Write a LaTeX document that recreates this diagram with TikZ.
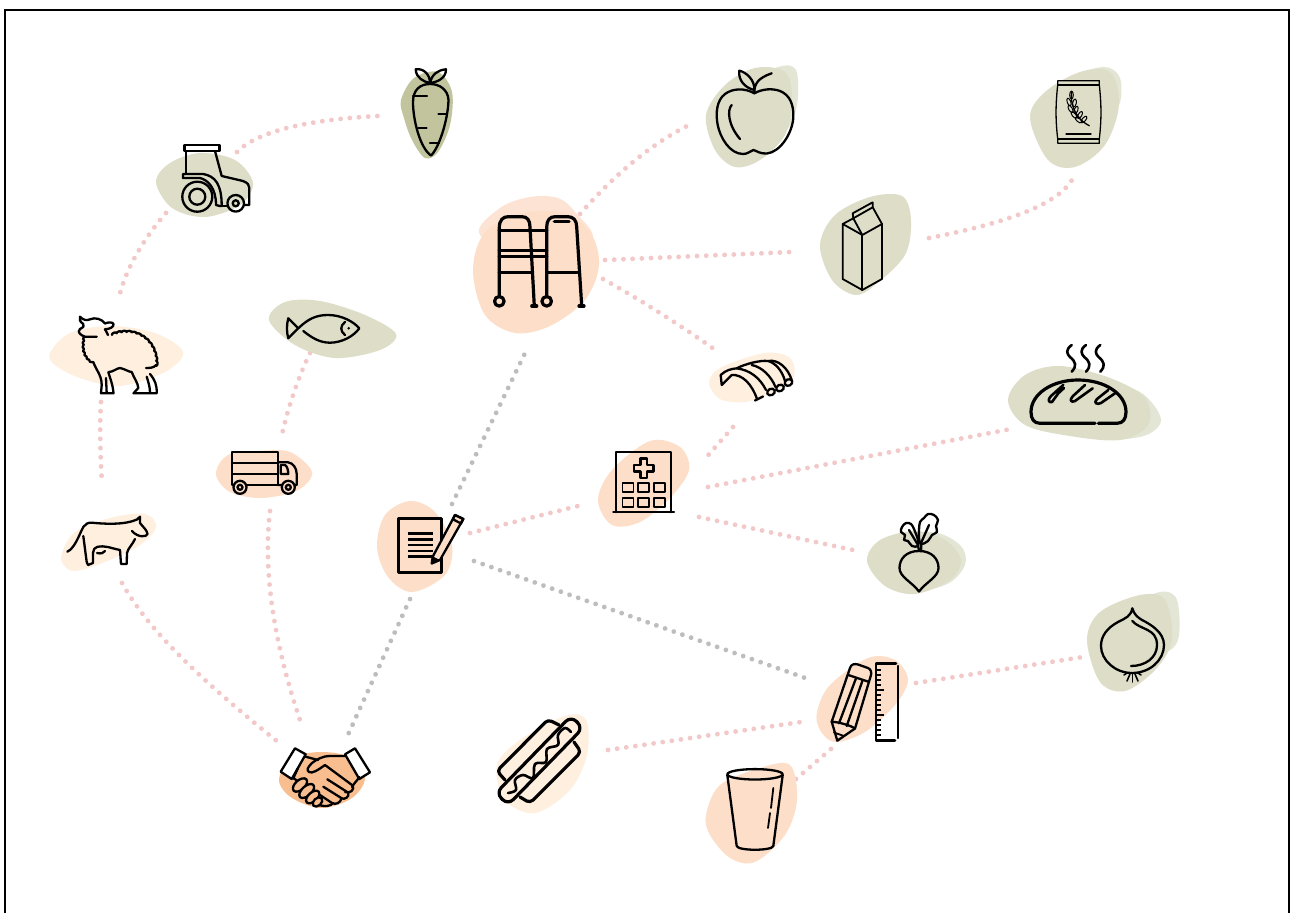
\documentclass[tikz,border=0pt]{standalone}
\usetikzlibrary{decorations.pathmorphing}
\definecolor{olive}{HTML}{DDDDC8}
\definecolor{olivelt}{HTML}{E3E6D5}
\definecolor{carrotc}{HTML}{C1C49C}
\definecolor{peach}{HTML}{FDDFC9}
\definecolor{peachlt}{HTML}{FDE3D3}
\definecolor{cream}{HTML}{FEEFDF}
\definecolor{deep}{HTML}{F9BE8F}
\definecolor{pinkdot}{HTML}{F2C8C8}
\definecolor{graydot}{HTML}{BDBDBD}
\tikzset{
 ic/.style={draw=black,line width=2.3pt,line cap=round,line join=round},
 icthin/.style={draw=black,line width=1.3pt,line cap=round,line join=round},
 icthick/.style={draw=black,line width=3.2pt,line cap=round,line join=round},
 pinkline/.style={draw=pinkdot,line width=4.8pt,line cap=round,dash pattern=on 0.01pt off 9.2pt},
 grayline/.style={draw=graydot,line width=4.8pt,line cap=round,dash pattern=on 0.01pt off 9.2pt},
 blob/.style={smooth cycle,tension=.56},
 curve/.style={smooth,tension=.6},
}
\begin{document}
\begin{tikzpicture}[x=1pt,y=-1pt]
\useasboundingbox (0,0) rectangle (1291,913);
\fill[white] (0,0) rectangle (1291,913);
\draw[black,line width=2pt] (5,913) -- (5,10) -- (1289,10) -- (1289,913);

% ---- connector ends
\coordinate (tractorNE) at (237,152);
\coordinate (carrotW) at (378,116);
\coordinate (tractorSW) at (166,213);
\coordinate (sheepN) at (118,301);
\coordinate (sheepS) at (101,402);
\coordinate (cowN) at (102,484);
\coordinate (fishS) at (310,353);
\coordinate (truckN) at (281,439);
\coordinate (truckS) at (270,511);
\coordinate (shakeNb) at (302,726);
\coordinate (cowS) at (122,583);
\coordinate (shakeNa) at (278,742);
\coordinate (docS) at (410,599);
\coordinate (shakeNc) at (346,739);
\coordinate (docN) at (452,504);
\coordinate (walkerS) at (528,347);
\coordinate (docSE) at (474,561);
\coordinate (rulerW) at (811,680);
\coordinate (docE) at (470,533);
\coordinate (hospW) at (586,504);
\coordinate (walkerNE) at (580,214);
\coordinate (appleW) at (687,126);
\coordinate (walkerE) at (605,260);
\coordinate (milkW) at (792,252);
\coordinate (walkerSE) at (603,279);
\coordinate (ribsN) at (714,349);
\coordinate (ribsS) at (733,427);
\coordinate (hospNE) at (703,461);
\coordinate (hospE) at (708,487);
\coordinate (breadW) at (1011,429);
\coordinate (hospSE) at (699,517);
\coordinate (beetW) at (853,550);
\coordinate (milkE) at (929,238);
\coordinate (flourS) at (1075,173);
\coordinate (rulerE) at (916,683);
\coordinate (onionW) at (1083,657);
\coordinate (dogE) at (608,750);
\coordinate (pencilW) at (801,722);
\coordinate (cupE) at (796,779);
\coordinate (pencilS) at (831,749);

% ---- connectors
\draw[pinkline] (tractorNE) .. controls (256.7,132) and (303.7,120) .. (carrotW);
\draw[pinkline] (tractorSW) .. controls (140.7,242.3) and (124.7,271.7) .. (sheepN);
\draw[pinkline] (sheepS) .. controls (99.7,423) and (100,450) .. (cowN);
\draw[pinkline] (fishS) .. controls (297,380.3) and (287.5,409) .. (truckN);
\draw[pinkline] (truckS) .. controls (263.3,567.3) and (272,639) .. (shakeNb);
\draw[pinkline] (cowS) .. controls (147.3,628.7) and (198.7,678.3) .. (shakeNa);
\draw[grayline] (docS) -- (shakeNc);
\draw[grayline] (docN) -- (walkerS);
\draw[grayline] (docSE) -- (rulerW);
\draw[pinkline] (docE) -- (hospW);
\draw[pinkline] (walkerNE) .. controls (615.3,173.7) and (650.7,144.7) .. (appleW);
\draw[pinkline] (walkerE) -- (milkW);
\draw[pinkline] (walkerSE) .. controls (641,300.3) and (678,323.7) .. (ribsN);
\draw[pinkline] (ribsS) -- (hospNE);
\draw[pinkline] (hospE) -- (breadW);
\draw[pinkline] (hospSE) -- (beetW);
\draw[pinkline] (milkE) .. controls (1019.3,220.7) and (1067,199.3) .. (flourS);
\draw[pinkline] (rulerE) -- (onionW);
\draw[pinkline] (dogE) -- (pencilW);
\draw[pinkline] (cupE) -- (pencilS);

% ---- blobs
\fill[olive] plot[blob] coordinates {(156,182) (170,163) (200,153) (235,160) (253,183) (240,205) (205,217) (172,208)};
\fill[carrotc] plot[blob] coordinates {(401,100) (414,78) (438,72) (452,92) (450,125) (438,152) (425,158) (412,140) (404,118)};
\fill[cream] plot[blob] coordinates {(50,353) (70,333) (110,326) (155,333) (183,352) (165,372) (120,386) (80,378) (55,365)};
\fill[olive] plot[blob] coordinates {(269,320) (285,302) (320,301) (365,315) (396,334) (380,350) (335,358) (295,345)};
\fill[cream] plot[blob] coordinates {(62,553) (75,532) (110,518) (145,514) (156,527) (140,545) (105,562) (75,571) (63,564)};
\fill[peach] plot[blob] coordinates {(216,474) (228,455) (260,451) (290,452) (312,472) (298,490) (262,498) (230,492)};
\fill[peach] plot[blob] coordinates {(377,547) (385,515) (410,501) (435,512) (452,545) (445,575) (412,592) (388,577)};
\fill[deep] plot[blob] coordinates {(279,780) (292,758) (322,752) (352,758) (365,778) (352,798) (322,808) (292,798)};
\fill[peachlt] plot[blob] coordinates {(480,235) (500,208) (530,197) (558,198) (575,212) (592,240) (540,260)};
\fill[peach] plot[blob] coordinates {(473,272) (483,235) (515,215) (560,212) (590,232) (599,265) (585,300) (550,326) (515,333) (485,315)};
\fill[olivelt] plot[blob] coordinates {(750,85) (778,67) (796,70) (797,105) (785,130) (760,110)};
\fill[olive] plot[blob] coordinates {(706,115) (725,85) (755,68) (785,72) (792,100) (785,135) (760,160) (735,167) (715,150)};
\fill[cream] plot[blob] coordinates {(709,382) (722,367) (765,353) (790,358) (793,378) (770,394) (745,402) (720,399)};
\fill[olivelt] plot[blob] coordinates {(1080,78) (1105,67) (1120,78) (1119,105) (1100,120)};
\fill[olive] plot[blob] coordinates {(1030,118) (1045,92) (1080,72) (1110,72) (1119,105) (1105,145) (1075,167) (1048,160)};
\fill[olive] plot[blob] coordinates {(820,245) (835,215) (870,197) (902,196) (911,220) (905,255) (875,285) (855,295) (832,280)};
\fill[olivelt] plot[blob] coordinates {(1100,385) (1140,392) (1161,420) (1140,437) (1090,435)};
\fill[olive] plot[blob] coordinates {(1008,400) (1025,375) (1060,366) (1110,378) (1145,398) (1148,425) (1120,440) (1070,436) (1025,425)};
\fill[peach] plot[blob] coordinates {(598,500) (612,470) (650,441) (680,447) (689,470) (670,498) (640,522) (612,525)};
\fill[cream] plot[blob] coordinates {(497,765) (520,740) (565,716) (586,720) (587,755) (570,790) (535,813) (505,800)};
\fill[peach] plot[blob] coordinates {(706,815) (720,785) (760,768) (790,765) (797,800) (785,835) (755,862) (730,858) (710,835)};
\fill[olivelt] plot[blob] coordinates {(880,545) (930,532) (960,545) (965,565) (945,585) (900,590)};
\fill[olive] plot[blob] coordinates {(867,561) (880,540) (915,531) (945,540) (961,560) (950,580) (915,594) (885,586)};
\fill[olivelt] plot[blob] coordinates {(1130,610) (1160,592) (1177,600) (1178,640) (1160,650)};
\fill[olive] plot[blob] coordinates {(1087,640) (1100,612) (1140,595) (1165,600) (1172,640) (1155,670) (1125,691) (1100,682)};
\fill[peach] plot[blob] coordinates {(817,712) (830,685) (868,658) (895,660) (908,680) (895,705) (865,732) (835,742) (820,730)};

% ---- tractor
\draw[ic] (184.5,145) rectangle (219.5,151);
\draw[ic] (185.7,151) -- (185.7,174);
\draw[ic] (215,151) -- (221.7,176) -- (243,181) .. controls (248,183) and (249.3,185) .. (249.3,188) -- (249.3,205) -- (244.5,205);
\draw[ic] (222,206) -- (227,206);
\draw[ic] (183,178) -- (183,174) -- (203,174) .. controls (215,176) and (221.7,184) .. (221.7,206) -- (220,206);
\draw[ic] (183,178) -- (200,178) .. controls (208,180) and (216,188) .. (216,205) -- (220,206);
\draw[ic] (197.3,196.7) circle (15);
\draw[ic] (197.3,196.7) circle (8);
\draw[ic] (235.7,203.3) circle (8.3);
\draw[ic] (235.7,203.3) circle (3);

% ---- carrot
\draw[ic] (430,84) .. controls (420,84) and (413,90) .. (413,102) .. controls (413,120) and (420,148) .. (431,155.5) .. controls (439,148) and (448,120) .. (448.5,100) .. controls (448,90) and (440,84) .. (430,84);
\draw[ic] (413,96) -- (427,96);
\draw[ic] (438.5,114) -- (446.5,114);
\draw[ic] (418.5,128.3) -- (426.5,128.3);
\draw[ic] (430,142.7) -- (439,142.7);
\draw[ic] (430,83) .. controls (424,82) and (416,78) .. (415.7,69.3) .. controls (423,68) and (430,74) .. (430,83) .. controls (432,74) and (438,70) .. (446,69.3) .. controls (446,78) and (438,82) .. (430,83);

% ---- sheep
\draw[ic] (96.7,336.7) -- (85,336.7) .. controls (80,335) and (77,332) .. (80,329) .. controls (84,327) and (84,326) .. (83.3,324) .. controls (80,322) and (79,319) .. (80,316.7) .. controls (83,320) and (87,321) .. (90,319.3) .. controls (95,317) and (102,319) .. (105,323.5) .. controls (108,322) and (113,322) .. (113.5,324) .. controls (114,327) and (110,329) .. (105,329.3) .. controls (106,331) and (107,333) .. (108,335);
\draw[ic,decorate,decoration={bumps,segment length=10pt,amplitude=1.5pt}] (112,335) .. controls (135,326) and (157,340) .. (156,366);
\draw[ic,decorate,decoration={bumps,segment length=8pt,amplitude=1.5pt,mirror}] (85,337) .. controls (82,350) and (86,358) .. (93,362);
\draw[ic] (93.3,362) .. controls (96,370) and (101.7,375) .. (101.7,385) -- (101,393.3) -- (113.5,393.3) .. controls (113,385) and (110,378) .. (108.3,372);
\draw[ic] (106.7,393) -- (106,378);
\draw[ic] (109,372) .. controls (113,372) and (117,368) .. (120,368) .. controls (125,369) and (129,372) .. (131.7,372) .. controls (134,378) and (138,383) .. (138.3,388) -- (133.5,393.3) -- (156.7,393.3) .. controls (157,385) and (155,380) .. (150,374);
\draw[ic] (146.7,376.7) .. controls (149,384) and (150,388) .. (150,393);
\draw[ic] (146,368) .. controls (149,368) and (154,368) .. (156,365);

% ---- fish
\draw[ic] (298.3,328.3) -- (288.3,318.3) .. controls (286.5,325) and (286.5,332) .. (288.3,338.3) -- (298.3,328.3) .. controls (308,319) and (316,315) .. (328,315) .. controls (342,315) and (354,322) .. (359.3,328.3) .. controls (354,336) and (342,342.7) .. (330,342.7) .. controls (320,342.7) and (312,338) .. (303.3,331);
\draw[ic] (345,322) .. controls (340,326) and (340,331) .. (345,335);
\fill[black] (348.7,328.3) circle (1.4);

% ---- cow
\draw[ic] (67.3,551.7) .. controls (75,548) and (79,535) .. (83.3,527) .. controls (85,524) and (88,522.5) .. (92,522.7) .. controls (105,524) and (125,525) .. (137,519.5) -- (140,516.7) -- (140,523) .. controls (143,527) and (147,530) .. (147.5,534) .. controls (147,537) and (138,538) .. (132,531);
\draw[ic] (135,539) .. controls (133,544) and (128,548) .. (127,553) -- (126.7,564) -- (121,564) -- (120,550) .. controls (110,548) and (105,545) .. (97,547) .. controls (92,548) and (93,555) .. (93,563) -- (88,565) -- (86.7,562) -- (83.3,536);
\draw[ic] (97,553) .. controls (101,554) and (104,553) .. (105,551);

% ---- truck
\draw[ic] (232,451.7) rectangle (278,485);
\draw[ic] (232,463.3) -- (278,463.3);
\draw[ic] (232,474) -- (278,474);
\draw[ic] (278,462.3) -- (288,462.3) .. controls (293,463) and (296.7,468) .. (296.7,474) -- (296.7,485) -- (278,485);
\draw[ic] (280.7,465) -- (285,465) .. controls (287,466) and (288.3,470) .. (288.3,474) -- (280.7,474) -- cycle;
\filldraw[ic,fill=peach] (240,487.3) circle (6.5);
\draw[ic] (240,487.3) circle (2.5);
\filldraw[ic,fill=peach] (288.3,487.3) circle (6.5);
\draw[ic] (288.3,487.3) circle (2.5);

% ---- document
\draw[icthick] (398.3,518.3) rectangle (441.7,572.7);
\foreach \yy in {533.3,539.3,545,551,556.7} \draw[line width=2.6pt,black] (407.7,\yy) -- (432.7,\yy);
\filldraw[ic,fill=peach] (432.7,556.7) -- (455,515) -- (463.3,519) -- (440,560) -- (431.7,563.5) -- cycle;
\draw[ic] (455,515) -- (463.3,519) -- (461,523.5) -- (452.8,519.2) -- cycle;
\fill[black] (431.7,563.5) -- (433,556.5) -- (440,560) -- cycle;

% ---- handshake
\filldraw[ic,fill=white] (295,748.3) -- (305.7,754.3) -- (291.7,779) -- (280.7,771.7) -- cycle;
\filldraw[ic,fill=white] (355,748.3) -- (345,754.3) -- (359.3,779) -- (370,772.3) -- cycle;
\draw[ic] (305.7,756.7) -- (318,760);
\draw[ic] (298,768) -- (293.3,778.3) -- (298,781);
\draw[ic] (345,756) -- (330,756) .. controls (322,756) and (316,760) .. (312,763) .. controls (308,767) and (306,770) .. (309,772) .. controls (312,774) and (318,770) .. (325,765) -- (352,785) .. controls (356,790) and (349,794) .. (345,792);
\draw[ic] (352,787) .. controls (354,783) and (357,781) .. (359.3,777);
\draw[ic] (327.3,779.3) -- (348.3,792.7) .. controls (350,797) and (344,800) .. (341.7,798.3) -- (323.3,786.7);
\draw[ic] (341.7,798.3) .. controls (340,803) and (336,805) .. (332,803) -- (320,795);
\draw[ic] (333,803) .. controls (331,806) and (326,807) .. (319,805);
\filldraw[ic,fill=deep,rotate around={42:(300,785)}] (300,785) ellipse [x radius=8.5pt,y radius=4.8pt];
\filldraw[ic,fill=deep,rotate around={42:(306.7,791)}] (306.7,791) ellipse [x radius=9pt,y radius=4.8pt];
\filldraw[ic,fill=deep,rotate around={42:(312.7,797)}] (312.7,797) ellipse [x radius=8pt,y radius=4.5pt];
\filldraw[ic,fill=deep,rotate around={42:(317.5,802)}] (317.5,802) ellipse [x radius=5.5pt,y radius=3.8pt];

% ---- walker
\draw[icthick] (499.3,296.7) -- (499.3,228) .. controls (499.3,220) and (503,216.7) .. (508,216.7) -- (522,216.7) .. controls (527,216.7) and (530,220) .. (530,227) -- (534.3,306);
\draw[icthick] (546.7,296.7) -- (546.7,227) .. controls (546.7,220) and (550,216.7) .. (555,216.7) -- (568,216.7) .. controls (573,216.7) and (576.7,220) .. (576.7,227) -- (581.7,306);
\draw[icthick] (554.3,221.3) -- (569,221.3);
\draw[icthick] (499.3,230.7) -- (546.7,230.7);
\draw[icthick] (499.3,250.7) -- (546.7,250.7);
\draw[icthick] (499.3,256.7) -- (546.7,256.7);
\draw[icthick] (499.3,272.7) -- (532.5,272.7);
\draw[icthick] (546.7,272.7) -- (579,272.7);
\draw[icthick] (499.3,301.3) circle (4.8);
\draw[icthick] (546.7,301.3) circle (4.8);
\draw[icthick] (531.8,306) -- (536.8,306);
\draw[icthick] (579,306) -- (584,306);

% ---- apple
\draw[ic] (754.3,93.3) .. controls (745,88) and (733,88) .. (725,94) .. controls (717,100) and (715.5,112) .. (717.5,124) .. controls (720,138) and (730,154) .. (743,154) .. controls (748,154) and (750,151) .. (753.5,150) .. controls (757,151) and (760,154) .. (767,153.5) .. controls (780,152) and (792,134) .. (793.3,118) .. controls (794,105) and (790,95) .. (780,91) .. controls (772,88) and (762,89) .. (754.3,93.3) -- cycle;
\draw[ic] (754.3,93.3) .. controls (754,84) and (758,78) .. (771.7,73.3);
\draw[ic] (754.3,90) .. controls (745,88) and (738,80) .. (739.3,70.7) .. controls (746,72) and (755,80) .. (754.3,90);
\draw[ic] (731.7,105) .. controls (727,110) and (728,125) .. (740,139);

% ---- ribs
\draw[ic] (720.7,375) .. controls (726,370) and (731,369) .. (736.7,368.3) .. controls (745,364) and (760,360) .. (768.3,361) .. controls (778,359) and (788,368) .. (791.7,380);
\draw[ic] (720.7,375) -- (721.7,385) -- (731.7,375) .. controls (742,374) and (752,384) .. (757,399);
\draw[ic] (736.7,368.3) .. controls (750,370) and (760,378) .. (766,390);
\draw[ic] (751.7,365) .. controls (762,367) and (771,376) .. (775.5,387);
\draw[ic] (768.3,361) .. controls (775,363) and (782,370) .. (785,381);
\draw[ic] (755,400.5) -- (763,396.5);
\draw[ic,rotate around={25:(771,392)}] (771,392) ellipse [x radius=4pt,y radius=3.2pt];
\draw[ic,rotate around={25:(780,388)}] (780,388) ellipse [x radius=4pt,y radius=3.2pt];
\draw[ic,rotate around={25:(788.5,382.5)}] (788.5,382.5) ellipse [x radius=4pt,y radius=3.2pt];

% ---- flour bag
\draw[icthin] (1057.7,80.7) -- (1099.3,80.7) -- (1099.3,85) .. controls (1101.5,105) and (1101.5,120) .. (1099.3,139) -- (1099.3,143.3) -- (1057.7,143.3) -- (1057.7,139) .. controls (1055.5,120) and (1055.5,105) .. (1057.7,85) -- cycle;
\draw[icthin] (1057.7,85) -- (1099.3,85);
\draw[icthin] (1057.7,139) -- (1099.3,139);
\draw[icthin] (1066,134) -- (1091,134);
\draw[icthin] (1071.7,91.7) .. controls (1070,102) and (1074,118) .. (1089.3,125.7);
\foreach \xa/\ya/\ang in {1071.5/95/-90,1069/102/-70,1074.5/103/-100,1070.5/109/-60,1076/110/-110,1074/115/-50,1080/115/-120,1078.5/120/-40,1084/119.5/-130}
 \draw[icthin,line width=1pt,rotate around={\ang:(\xa,\ya)}] (\xa,\ya) ellipse [x radius=4pt,y radius=1.8pt];

% ---- milk
\draw[icthin,line width=1.8pt] (842.7,224) -- (842.7,279) -- (862.3,290) -- (882,279) -- (882,224) -- (862.3,235) -- cycle;
\draw[icthin,line width=1.8pt] (862.3,235) -- (862.3,290);
\draw[icthin,line width=1.8pt] (842.7,224) -- (853.3,218.3) -- (862.3,235);
\draw[icthin,line width=1.8pt] (853.3,218.3) -- (852.7,213.3) -- (872.7,202.3) -- (872.7,207.3) -- (853.3,218.3);
\draw[icthin,line width=1.8pt] (872.7,207.3) -- (882,224);

% ---- bread
\draw[icthick] (1098.3,423.3) -- (1117,423.3) .. controls (1123,423.3) and (1126,419) .. (1126,412) .. controls (1126,394) and (1105,380) .. (1078,380) .. controls (1052,380) and (1031,394) .. (1031,412) .. controls (1031,419) and (1034,423.3) .. (1040,423.3) -- (1095,423.3);
\draw[ic,line width=2.6pt] (1063.3,385) -- (1051,396) .. controls (1047,400) and (1049,403) .. (1052,402) -- (1058.3,393.3) -- (1064,388);
\draw[ic,line width=2.6pt] (1085,385) -- (1073,396) .. controls (1069,400) and (1071,403) .. (1075,401) -- (1092.7,388.3);
\draw[ic,line width=2.6pt] (1108.3,390) -- (1097,399) .. controls (1093,403) and (1097,405) .. (1101,403) -- (1115,393.3);
\foreach \dx in {0,14.3,28.6}
 \draw[ic,line width=2.6pt] (1071.7+\dx,345) .. controls (1065+\dx,350) and (1067+\dx,354) .. (1070+\dx,357) .. controls (1076+\dx,362) and (1077+\dx,366) .. (1071.7+\dx,371.7);

% ---- hospital
\draw[ic] (616,512.3) -- (616,452.3) -- (671.3,452.3) -- (671.3,512.3);
\draw[ic] (613.3,512.3) -- (674,512.3);
\draw[ic] (640.5,458.5) -- (646.9,458.5) -- (646.9,465) -- (653.5,465) -- (653.5,471.6) -- (646.9,471.6) -- (646.9,478) -- (640.5,478) -- (640.5,471.6) -- (634,471.6) -- (634,465) -- (640.5,465) -- cycle;
\foreach \xx in {628,643.7,659.3} \foreach \yy in {487.3,502.7}
 \draw[ic,line width=1.9pt] (\xx-5.5,\yy-4.5) rectangle (\xx+5.5,\yy+4.5);

% ---- hot dog
\draw[icthick,rounded corners=7.5pt] (496,793) -- (571,716) -- (583,728) -- (508,805) -- cycle;
\draw[icthick,rounded corners=4pt] (505,780) -- (497,771) -- (548,719.5) -- (559,725);
\draw[icthick,rounded corners=4pt] (520,797) -- (530,803) -- (581,752) -- (574,742);
\draw[ic,line width=2.6pt] plot[curve] coordinates {(508,793) (516,790) (515,780) (523,775) (533,778) (535,764) (546,762) (547,749) (558,745) (558,735) (565,728) (571,732)};

% ---- cup
\draw[ic] (755,774.3) ellipse [x radius=27.7pt,y radius=5.2pt];
\draw[ic] (727.3,775) -- (736.7,846) .. controls (738,851) and (772,851) .. (773.3,846) -- (782.7,775);
\draw[ic,line width=1.8pt] (773.3,788) -- (771,808);
\draw[ic,line width=1.8pt] (770,813) -- (768,828);

% ---- beet
\draw[ic] (919,551) .. controls (906,551) and (899.5,559) .. (899.5,568) .. controls (899.5,577) and (912,582) .. (919,591.5) .. controls (926,582) and (938.5,577) .. (938.5,568) .. controls (938.5,559) and (932,551) .. (919,551) -- cycle;
\draw[ic] (919,551) -- (918,545) -- (909,530);
\draw[ic] (921,551) -- (921.5,542) -- (929,525);
\draw[ic] plot[smooth cycle,tension=.6] coordinates {(918,546) (912,546) (908,541) (904,540) (905,535) (901,532) (902,527) (906,523) (911,524) (914,529) (916,534) (918,540)};
\draw[ic] plot[smooth cycle,tension=.6] coordinates {(921,544) (928,541) (932,535) (937,532) (936,526) (938,520) (934,515) (928,514) (924,518) (920,522) (919,530) (919,538)};

% ---- onion
\draw[ic] (1132.3,608.3) .. controls (1131,616) and (1126,618) .. (1118,622) .. controls (1107,628) and (1101,636) .. (1101,646) .. controls (1101,660) and (1115,673) .. (1132,673) .. controls (1150,673) and (1164,660) .. (1164,645) .. controls (1164,632) and (1150,624) .. (1142,620) .. controls (1137,617) and (1134,614) .. (1132.3,608.3) -- cycle;
\draw[ic] (1132.3,621) .. controls (1140,630) and (1157,628) .. (1157,645) .. controls (1157,658) and (1145,666) .. (1131,666);
\draw[ic,line width=1.6pt] (1127,673) -- (1124,675);
\draw[ic,line width=1.6pt] (1130,674) -- (1127,681);
\draw[ic,line width=1.6pt] (1132.5,674) -- (1132.5,682);
\draw[ic,line width=1.6pt] (1135,674) -- (1138,681);
\draw[ic,line width=1.6pt] (1138,673) -- (1141,675);

% ---- pencil and ruler
\draw[ic] (850,668) .. controls (851,664) and (855,663.5) .. (858,664.5) -- (868,668) .. controls (871,669) and (872,673) .. (870.7,676) -- (855,728.5) -- (837.3,740.7) -- (831.7,721.7) -- cycle;
\draw[ic] (848.3,675) -- (868.3,681.7);
\draw[ic] (831.7,721.7) .. controls (838,722) and (850,725) .. (855,728.5);
\draw[ic] (839,723.3) -- (856,678.3);
\draw[ic] (846.7,726) -- (862.7,680);
\draw[ic,line width=1.8pt] (834,732.5) -- (844,736);
\draw[ic,line width=2.8pt] (896,663.3) -- (876,663.3) -- (876,740.7) -- (895,740.7);
\draw[ic] (898.3,666) -- (898.3,738);
\foreach \yy in {670,675,680,685,695,700,705,710,720,725,730,735} \draw[line width=1.8pt] (876,\yy) -- (881,\yy);
\foreach \yy in {690,715} \draw[line width=1.8pt] (876,\yy) -- (884,\yy);
\end{tikzpicture}
\end{document}
